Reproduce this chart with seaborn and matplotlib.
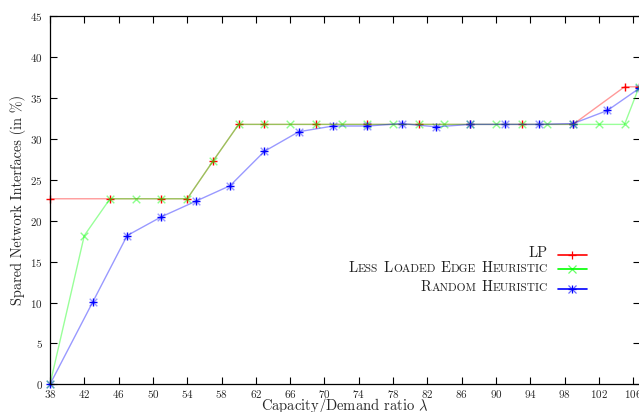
import matplotlib
matplotlib.use("Agg")

import matplotlib.pyplot as plt
from matplotlib.lines import Line2D
from matplotlib.offsetbox import TextArea, HPacker, DrawingArea, AnchoredOffsetbox
import seaborn as sns

# --- DATA ---
lp_x = [38, 45, 51, 54, 57, 60, 63, 69, 75, 81, 87, 93, 99, 105, 106.7]
lp_y = [22.7, 22.7, 22.7, 22.7, 27.3, 31.8, 31.8, 31.8, 31.8, 31.8, 31.8, 31.8, 31.8, 36.4, 36.4]

lle_x = [38, 42, 45, 48, 51, 54, 57] + list(range(60, 106, 3)) + [106.7]
lle_y = [0, 18.2, 22.7, 22.7, 22.7, 22.7, 27.3] + [31.8] * 16 + [36.4]

rnd_x = [38, 43, 47, 51, 55, 59, 63, 67, 71, 75, 79, 83, 87, 91, 95, 99, 103, 106.7]
rnd_y = [0, 10.1, 18.2, 20.5, 22.4, 24.3, 28.5, 30.9, 31.6, 31.6, 31.9, 31.5, 31.8, 31.8, 31.8, 31.9, 33.5, 36.2]

x_ticks = list(range(38, 107, 4))
y_ticks = list(range(0, 46, 5))

# --- STYLE ---
sns.set_style("ticks", {"xtick.direction": "in", "ytick.direction": "in"})
plt.rcParams["font.family"] = ["cmr10", "DejaVu Serif"]
plt.rcParams["mathtext.fontset"] = "cm"
plt.rcParams["axes.formatter.use_mathtext"] = True

fig = plt.figure(figsize=(6.39, 4.12), dpi=100)
ax = fig.add_axes([50 / 639, 27.7 / 412, 590 / 639, 367.8 / 412])

# lines (pale), then markers (full colour)
sns.lineplot(x=lp_x, y=lp_y, color="#ff0000", alpha=0.4, lw=1, ax=ax)
sns.lineplot(x=lle_x, y=lle_y, color="#00ff00", alpha=0.4, lw=1, ax=ax)
sns.lineplot(x=rnd_x, y=rnd_y, color="#0000ff", alpha=0.4, lw=1, ax=ax)

sns.scatterplot(x=lp_x, y=lp_y, marker="+", s=40, color="#ff0000", linewidth=1, clip_on=False, ax=ax)
sns.scatterplot(x=lle_x, y=lle_y, marker="x", s=30, color="#00ff00", alpha=0.45, linewidth=1, clip_on=False, ax=ax)
sns.scatterplot(x=rnd_x, y=rnd_y, marker="x", s=30, color="#0000ff", alpha=0.4, linewidth=1, clip_on=False, ax=ax)
sns.scatterplot(x=rnd_x, y=rnd_y, marker="+", s=40, color="#0000ff", linewidth=1, clip_on=False, ax=ax)

ax.set_xlim(38, 106.8)
ax.set_ylim(0, 45)
ax.set_xticks(x_ticks)
ax.set_yticks(y_ticks)
ax.tick_params(which="both", direction="in", length=5, width=0.8, labelsize=8,
               top=True, right=True, color="black")
ax.tick_params(axis="x", pad=3)
ax.tick_params(axis="y", pad=5)
for sp in ax.spines.values():
    sp.set_visible(True)
    sp.set_linewidth(0.9)
    sp.set_color("black")

ax.set_xlabel(r"Capacity/Demand ratio $\lambda$", fontsize=10.5, labelpad=-3.5)
ax.set_ylabel("Spared Network Interfaces (in %)", fontsize=10.3, labelpad=3)

# --- LEGEND (small caps built by hand) ---
def small_caps(text, big=10.5, small=8.2):
    words = []
    for w in text.split():
        parts = [TextArea(w[0], textprops=dict(fontsize=big, color="#222222"))]
        if len(w) > 1:
            parts.append(TextArea(w[1:].upper(), textprops=dict(fontsize=small, color="#222222")))
        words.append(HPacker(children=parts, align="baseline", pad=0, sep=0))
    return HPacker(children=words, align="baseline", pad=0, sep=4)


def handle(color, markers):
    da = DrawingArea(21, 7, 0, 2)
    da.add_artist(Line2D([0, 21], [1.5, 1.5], color=color, lw=1.2))
    for m in markers:
        da.add_artist(Line2D([10.5], [1.5], color=color, marker=m, ms=6, mew=0.9, alpha=0.6 if m == "x" else 1))
    return da


legend_rows = [("LP", "#ff0000", ["+"], 0.356),
               ("Less Loaded Edge Heuristic", "#00ff00", ["x"], 0.317),
               ("Random Heuristic", "#0000ff", ["x", "+"], 0.265)]
for label, col, mk, ypos in legend_rows:
    if label == "LP":
        lab = TextArea(label, textprops=dict(fontsize=10.5, color="#222222"))
    else:
        lab = small_caps(label)
    row = HPacker(children=[lab, handle(col, mk)], align="baseline", pad=0, sep=7)
    box = AnchoredOffsetbox(loc="center right", child=row, pad=0, borderpad=0, frameon=False,
                            bbox_to_anchor=(0.91, ypos), bbox_transform=ax.transAxes)
    ax.add_artist(box)

fig.savefig("out.png", dpi=100)
